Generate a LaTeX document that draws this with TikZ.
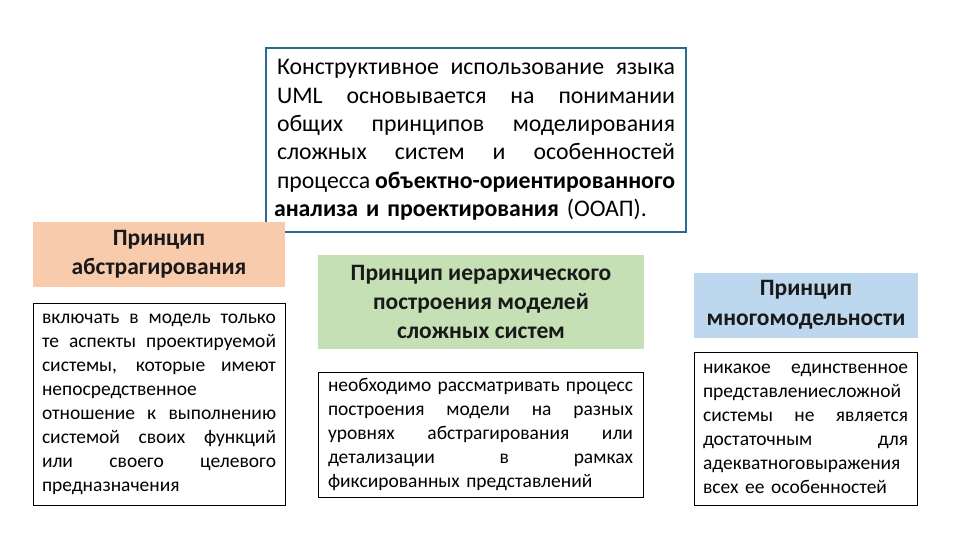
\documentclass[tikz,border=0pt]{standalone}
\usepackage{fontspec}
\setmainfont{Carlito}
\definecolor{framecol}{HTML}{2A6A94}
\definecolor{orangefill}{HTML}{F8CBAD}
\definecolor{greenfill}{HTML}{C5E0B4}
\definecolor{bluefill}{HTML}{BDD7EE}
\newcommand{\jl}[1]{{\spaceskip=0pt\xspaceskip=0pt\makebox[\hsize][s]{#1}}}
\begin{document}
\begin{tikzpicture}[x=1pt,y=-1pt,
  topframe/.style={draw=framecol, line width=2.4pt, fill=white, inner sep=0pt,
    minimum width=420pt, minimum height=184pt, text width=398pt, align=left,
    font=\fontsize{23.8}{28.4}\selectfont},
  hdr/.style={inner sep=0pt, align=center, text=black!90,
    font=\fontsize{23.5}{29}\selectfont\bfseries},
  txtbox/.style={draw=black, line width=0.9pt, fill=white, inner sep=0pt, align=left,
    font=\fontsize{19.5}{24}\selectfont}]
\useasboundingbox (0,0) rectangle (960,540);
\fill[white] (0,0) rectangle (960,540);

\node[topframe] (top) at (476,140) {%
\jl{Конструктивное использование языка}\\
\jl{UML основывается на понимании}\\
\jl{общих принципов моделирования}\\
\jl{сложных систем и особенностей}\\
\jl{процесса \textbf{объектно-ориентированного}}\\
\hspace*{-3pt}\textbf{анализа и проектирования} (ООАП).};

\node[hdr, fill=orangefill, minimum width=252pt, minimum height=65pt] (h1) at (159,254.5)
  {Принцип\\абстрагирования};
\node[hdr, fill=greenfill, minimum width=326pt, minimum height=94pt] (h2) at (481,302)
  {Принцип иерархического\\построения моделей\\сложных систем};
\node[hdr, fill=bluefill, minimum width=224pt, minimum height=65pt,
  font=\fontsize{23.5}{30}\selectfont\bfseries] (h3) at (806,305)
  {Принцип\\многомодельности};

\node[txtbox, minimum width=252pt, minimum height=202pt, text width=234pt] (t1) at (159,404) {%
\jl{включать в модель только}\\
\jl{те аспекты проектируемой}\\
\jl{системы, которые имеют}\\
непосредственное\\
\jl{отношение к выполнению}\\
\jl{системой своих функций}\\
\jl{или своего целевого}\\
предназначения};

\node[txtbox, minimum width=325pt, minimum height=125pt, text width=305pt] (t2) at (480.5,434.5) {%
\jl{необходимо рассматривать процесс}\\
\jl{построения модели на разных}\\
\jl{уровнях абстрагирования или}\\
\jl{детализации в рамках}\\
фиксированных представлений};

\node[txtbox, minimum width=223pt, minimum height=153pt, text width=205pt] (t3) at (805.5,428.5) {%
\jl{никакое единственное}\\
представлениесложной\\
\jl{системы не является}\\
\jl{достаточным для}\\
адекватноговыражения\\
всех ее особенностей};
\end{tikzpicture}
\end{document}
